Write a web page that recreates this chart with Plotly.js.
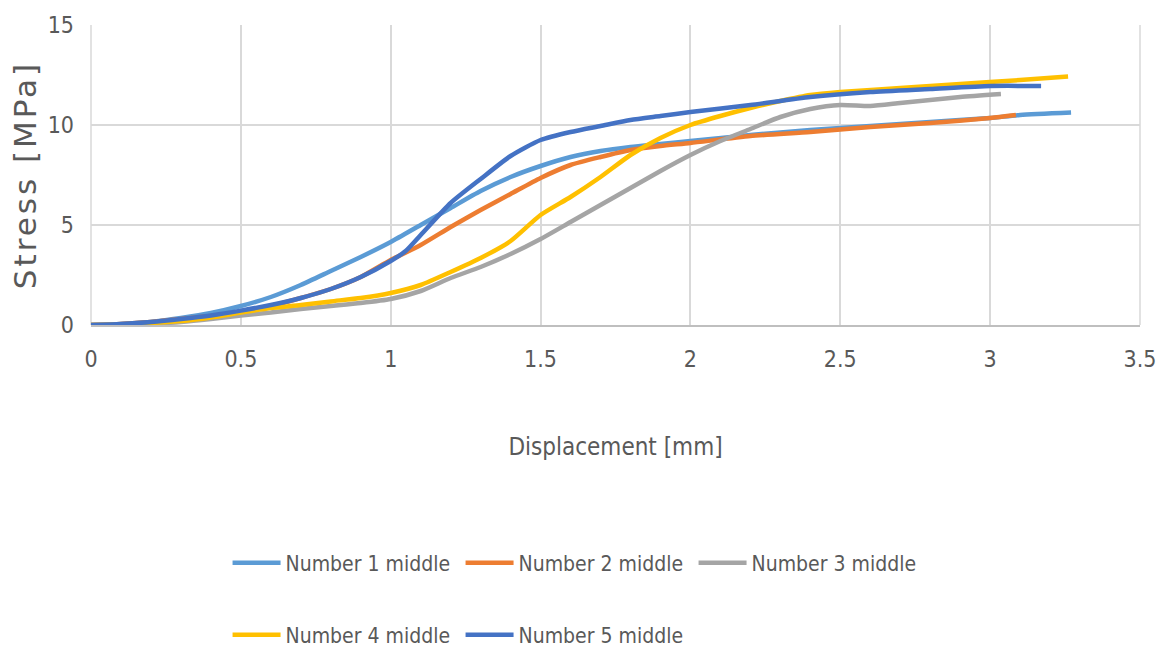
<!DOCTYPE html>
<html>
<head>
<meta charset="utf-8">
<script src="https://cdn.plot.ly/plotly-3.0.1.min.js"></script>
<style>
  html, body { margin: 0; padding: 0; background: #fff; }
  #chart { width: 1164px; height: 654px; }
  /* wider tracking for the rotated stress title */
  #chart .ytitle { letter-spacing: 3px; }
</style>
</head>
<body>
<div id="chart"></div>
<script>
// Stress–displacement curves, five specimens (middle section)
const seriesNames = ["Number 1 middle", "Number 2 middle", "Number 3 middle", "Number 4 middle", "Number 5 middle"];
const seriesColors = ["#5B9BD5", "#ED7D31", "#A5A5A5", "#FFC000", "#4472C4"];

const disp1 = [0, 0.1, 0.2, 0.3, 0.4, 0.5, 0.6, 0.7, 0.8, 0.9, 1.0, 1.1, 1.2, 1.3, 1.4, 1.5, 1.6, 1.7, 1.8, 1.9, 2.0, 2.2, 2.4, 2.6, 2.8, 3.0, 3.1, 3.27];
const stress1 = [0, 0.05, 0.15, 0.35, 0.6, 0.95, 1.4, 2.0, 2.7, 3.4, 4.15, 5.0, 5.85, 6.7, 7.4, 7.95, 8.4, 8.7, 8.9, 9.05, 9.2, 9.5, 9.75, 9.95, 10.15, 10.35, 10.5, 10.62];

const disp2 = [0, 0.1, 0.2, 0.3, 0.4, 0.5, 0.6, 0.7, 0.8, 0.9, 1.0, 1.1, 1.2, 1.3, 1.4, 1.5, 1.6, 1.7, 1.8, 1.9, 2.0, 2.2, 2.4, 2.6, 2.8, 3.0, 3.086];
const stress2 = [0, 0.05, 0.15, 0.3, 0.45, 0.65, 0.95, 1.35, 1.8, 2.4, 3.25, 4.0, 4.9, 5.75, 6.55, 7.35, 8.0, 8.4, 8.75, 8.95, 9.1, 9.45, 9.65, 9.9, 10.1, 10.35, 10.5];

const disp3 = [0, 0.1, 0.2, 0.3, 0.4, 0.5, 0.6, 0.7, 0.8, 0.9, 1.0, 1.1, 1.2, 1.3, 1.4, 1.5, 1.6, 1.7, 1.8, 1.9, 2.0, 2.1, 2.2, 2.3, 2.4, 2.5, 2.6, 2.7, 2.8, 2.9, 3.036];
const stress3 = [0, 0.02, 0.06, 0.15, 0.3, 0.48, 0.62, 0.8, 0.95, 1.1, 1.3, 1.7, 2.35, 2.9, 3.55, 4.3, 5.15, 6.0, 6.85, 7.7, 8.5, 9.2, 9.8, 10.4, 10.8, 11.0, 10.95, 11.1, 11.25, 11.4, 11.55];

const disp4 = [0, 0.1, 0.2, 0.3, 0.4, 0.5, 0.6, 0.7, 0.8, 0.9, 1.0, 1.1, 1.2, 1.3, 1.4, 1.5, 1.6, 1.7, 1.8, 1.9, 2.0, 2.1, 2.2, 2.3, 2.4, 2.5, 2.7, 2.9, 3.1, 3.26];
const stress4 = [0, 0.03, 0.1, 0.2, 0.38, 0.62, 0.85, 1.0, 1.18, 1.35, 1.6, 2.0, 2.65, 3.35, 4.2, 5.5, 6.4, 7.4, 8.5, 9.35, 10.0, 10.45, 10.85, 11.2, 11.5, 11.65, 11.85, 12.05, 12.25, 12.42];

const disp5 = [0, 0.1, 0.2, 0.3, 0.4, 0.5, 0.6, 0.7, 0.8, 0.9, 1.0, 1.05, 1.1, 1.2, 1.3, 1.4, 1.5, 1.6, 1.7, 1.8, 1.9, 2.0, 2.2, 2.4, 2.6, 2.8, 3.0, 3.17];
const stress5 = [0, 0.05, 0.15, 0.3, 0.48, 0.72, 1.0, 1.35, 1.8, 2.4, 3.2, 3.7, 4.5, 6.1, 7.3, 8.45, 9.25, 9.65, 9.95, 10.25, 10.45, 10.65, 11.0, 11.4, 11.65, 11.8, 11.95, 11.95];

const xTicks = [0, 0.5, 1, 1.5, 2, 2.5, 3, 3.5];
const xTickText = ["0", "0.5", "1", "1.5", "2", "2.5", "3", "3.5"];
const yTicks = [0, 5, 10, 15];

const dispSets = [disp1, disp2, disp3, disp4, disp5];
const stressSets = [stress1, stress2, stress3, stress4, stress5];

const narrow = "DejaVu Sans Condensed, Liberation Sans Narrow, DejaVu Sans, sans-serif";
const textGray = "#595959";

const traces = seriesNames.map((name, i) => ({
  type: "scatter",
  mode: "lines",
  name: name,
  x: dispSets[i],
  y: stressSets[i],
  line: { color: seriesColors[i], width: 4.5, shape: "spline", smoothing: 0.6 },
  legend: i < 3 ? "legend" : "legend2",
  hoverinfo: "x+y+name"
}));

const legendCommon = {
  orientation: "h",
  xref: "container",
  yref: "container",
  xanchor: "left",
  yanchor: "middle",
  font: { family: narrow, size: 21, color: textGray },
  bgcolor: "rgba(0,0,0,0)",
  entrywidth: 170,
  entrywidthmode: "pixels",
  itemwidth: 48,
  traceorder: "normal"
};

const layout = {
  width: 1164,
  height: 654,
  margin: { l: 91, r: 24, t: 25, b: 329 },
  paper_bgcolor: "#ffffff",
  plot_bgcolor: "#ffffff",
  showlegend: true,
  xaxis: {
    range: [0, 3.5],
    tickvals: xTicks,
    ticktext: xTickText,
    showgrid: true,
    gridcolor: "#d9d9d9",
    gridwidth: 1.5,
    zeroline: false,
    showline: true,
    linecolor: "#bfbfbf",
    linewidth: 2,
    ticks: "",
    ticklabelstandoff: 12,
    tickfont: { family: narrow, size: 23, color: textGray },
    title: { text: "Displacement [mm]", font: { family: narrow, size: 24, color: textGray }, standoff: 68 },
    automargin: false,
    fixedrange: true
  },
  yaxis: {
    range: [0, 15],
    tickvals: yTicks,
    showgrid: true,
    gridcolor: "#d9d9d9",
    gridwidth: 1.5,
    zeroline: false,
    showline: false,
    ticks: "",
    ticklabelstandoff: 16,
    tickfont: { family: narrow, size: 23, color: textGray },
    title: { text: "Stress [MPa]", font: { family: "DejaVu Sans, Verdana, sans-serif", size: 31, color: textGray }, standoff: 1 },
    automargin: false,
    fixedrange: true
  },
  legend: Object.assign({}, legendCommon, { x: 0.1955, y: 1 - 563 / 654 }),
  legend2: Object.assign({}, legendCommon, { x: 0.1955, y: 1 - 635 / 654 }),
  shapes: [
    { type: "line", xref: "paper", yref: "paper", x0: 0, x1: 0, y0: 0, y1: 1, line: { color: "#d9d9d9", width: 1.5 }, layer: "below" },
    { type: "line", xref: "paper", yref: "paper", x0: 1, x1: 1, y0: 0, y1: 1, line: { color: "#d9d9d9", width: 1.5 }, layer: "below" }
  ]
};

Plotly.newPlot("chart", traces, layout, { displayModeBar: false });
</script>
</body>
</html>
